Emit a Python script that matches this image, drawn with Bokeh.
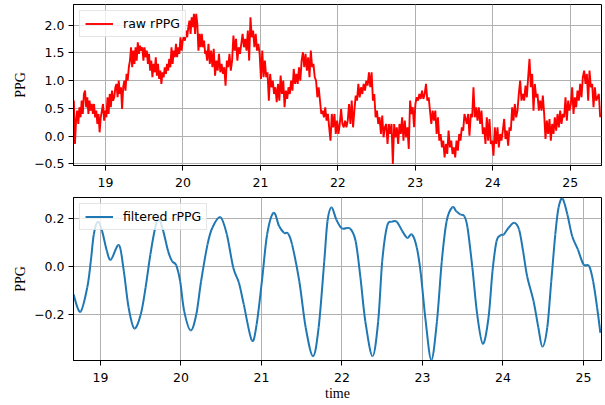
import numpy as np
from bokeh.plotting import figure
from bokeh.layouts import column
from bokeh.models import Range1d, FixedTicker, CustomJSTickFormatter
from bokeh.embed import file_html
from bokeh.resources import INLINE

# ---------------- data ----------------
# raw rPPG, read in four consecutive stretches (start time, end time, values)
raw_bounds = [(18.591, 20.287), (20.296, 21.888), (21.905, 23.635), (23.665, 25.387)]
raw_seg1 = [
    0.64, -0.14, 0.28, 0.46, 0.22, 0.52, 0.34, 0.64, 0.40, 0.76,
    0.82, 0.52, 0.70, 0.40, 0.64, 0.46, 0.58, 0.40, 0.58, 0.34,
    0.46, 0.22, 0.40, 0.07, 0.34, 0.46, 0.58, 0.28, 0.46, 0.34,
    0.70, 0.40, 0.76, 0.52, 0.82, 0.64, 0.70, 0.88, 0.94, 0.70,
    1.00, 0.76, 0.88, 0.49, 0.88, 1.00, 0.82, 1.12, 1.00, 1.24,
    1.36, 1.60, 1.24, 1.54, 1.30, 1.60, 1.36, 1.69, 1.48, 1.63,
    1.54, 1.60, 1.36, 1.60, 1.42, 1.54, 1.30, 1.48, 1.18, 1.36,
    1.06, 1.30, 1.15, 1.42, 1.09, 1.30, 1.03, 1.18, 0.94, 1.15,
    1.06, 1.24, 1.12, 1.30, 1.18, 1.39, 1.24, 1.60, 1.30, 1.54,
    1.42, 1.66, 1.42, 1.60, 1.48, 1.78, 1.54, 1.72, 1.78, 1.72,
    1.90, 1.78, 1.96, 2.08, 1.84, 2.14, 1.96, 2.20, 1.84, 2.20,
    2.02, 1.54, 1.84, 1.60, 1.84, 1.60, 1.72, 1.48,
]
raw_seg2 = [
    1.54, 1.36, 1.66, 1.30, 1.54, 1.24, 1.57, 1.09, 1.36, 1.18,
    1.48, 1.15, 1.30, 1.12, 1.24, 0.91, 1.36, 1.24, 1.48, 1.18,
    1.36, 1.81, 1.54, 1.75, 1.36, 1.60, 1.48, 1.66, 1.84, 1.60,
    1.75, 1.54, 1.90, 1.36, 2.14, 1.78, 1.90, 1.60, 1.84, 1.54,
    1.66, 1.48, 1.03, 1.54, 1.06, 1.36, 1.06, 1.15, 0.64, 1.12,
    0.88, 1.00, 0.76, 0.88, 0.61, 0.94, 0.64, 1.09, 0.76, 1.00,
    0.52, 0.82, 0.67, 0.88, 0.76, 1.00, 0.82, 1.21, 0.94, 1.12,
    0.94, 1.24, 1.00, 1.36, 1.51, 1.24, 1.48, 1.18, 1.42, 1.06,
    1.54, 1.24, 1.30, 1.06, 1.00, 0.70, 0.88, 0.64, 0.40, 0.46,
    0.34, 0.52, 0.28, 0.40, 0.16,
]
raw_seg3 = [
    -0.08, 0.40, 0.16, 0.40, 0.04, 0.28, 0.04, 0.22, 0.49, 0.22,
    0.16, 0.28, 0.16, 0.28, 0.58, 0.22, 0.64, 0.16, 0.46, 0.73,
    0.64, 0.94, 0.70, 0.88, 0.76, 0.94, 0.82, 1.00, 0.91, 1.15,
    0.88, 1.15, 0.64, 0.76, 0.34, 0.46, 0.22, 0.34, 0.04, 0.37,
    -0.02, 0.16, 0.22, -0.14, 0.22, 0.04, 0.22, -0.50, 0.22, -0.02,
    0.16, -0.14, 0.22, 0.04, 0.34, -0.08, 0.28, -0.02, 0.16, -0.23,
    0.64, 0.40, 0.52, 0.16, 0.58, 0.70, 0.64, 0.76, 0.67, 0.82,
    0.67, 0.76, 0.94, 0.64, 0.70, 0.46, 0.22, 0.46, 0.28, 0.46,
    0.04, 0.34, -0.08, 0.04, -0.20, -0.08, -0.38, -0.14, -0.32, 0.10,
    -0.20, -0.08, -0.32, -0.20, -0.38, -0.08, -0.26, 0.04, -0.08, 0.16,
    0.10, 0.40,
]
raw_seg4 = [
    0.22, 0.40, 0.01, 0.40, 0.34, 0.88, 0.34, 0.52, 0.28, 0.52,
    0.22, 0.46, 0.04, 0.16, -0.14, 0.34, -0.08, 0.31, -0.14, -0.08,
    -0.35, 0.16, -0.14, 0.16, -0.20, 0.04, -0.08, 0.10, 0.31, -0.05,
    0.10, -0.17, 0.16, 0.10, 0.52, 0.28, 0.58, 0.34, 0.46, 0.76,
    1.00, 0.64, 0.76, 0.64, 0.91, 0.70, 1.06, 1.39, 0.88, 1.12,
    0.46, 0.94, 0.70, 0.76, 0.46, 0.64, 0.46, 0.73, 0.40, -0.05,
    0.28, 0.04, 0.31, -0.08, 0.22, 0.04, 0.34, 0.10, 0.40, 0.16,
    0.46, 0.22, 0.40, 0.34, 0.70, 0.28, 0.64, 0.46, 0.58, 0.88,
    0.40, 0.70, 0.52, 0.82, 0.64, 0.94, 0.70, 1.06, 1.18, 0.94,
    1.12, 0.64, 1.18, 0.88, 0.94, 0.52, 0.88, 0.64, 0.70, 0.76,
    0.34,
]

# filtered rPPG (time, value)
filt_t = [
    18.665, 18.75, 18.835, 18.88, 18.917, 18.966, 19.02, 19.08, 19.13, 19.23,
    19.29, 19.35, 19.42, 19.50, 19.56, 19.62, 19.68, 19.725, 19.78, 19.84,
    19.89, 19.94, 19.99, 20.04, 20.12, 20.19, 20.25, 20.33, 20.39, 20.49,
    20.57, 20.65, 20.72, 20.78, 20.88, 20.94, 21.01, 21.07, 21.15, 21.22,
    21.28, 21.33, 21.38, 21.47, 21.55, 21.64, 21.71, 21.78, 21.82, 21.87,
    21.93, 22.00, 22.10, 22.17, 22.23, 22.29, 22.38, 22.45, 22.50, 22.56,
    22.62, 22.68, 22.75, 22.81, 22.87, 22.93, 22.98, 23.04, 23.11, 23.18,
    23.24, 23.30, 23.37, 23.42, 23.47, 23.52, 23.56, 23.62, 23.68, 23.75,
    23.82, 23.87, 23.92, 23.97, 24.01, 24.07, 24.14, 24.20, 24.25, 24.30,
    24.38, 24.44, 24.49, 24.55, 24.60, 24.65, 24.69, 24.74, 24.80, 24.86,
    24.93, 25.00, 25.07, 25.12, 25.17, 25.21,
]
filt_v = [
    -0.115, -0.187, -0.087, 0.023, 0.134, 0.187, 0.148, 0.065, 0.030, 0.090,
    -0.018, -0.170, -0.256, -0.198, -0.087, 0.051, 0.162, 0.200, 0.148, 0.065,
    0.023, 0.007, -0.060, -0.184, -0.264, -0.198, -0.060, 0.093, 0.162, 0.206,
    0.134, -0.004, -0.066, -0.156, -0.305, -0.239, -0.046, 0.134, 0.224, 0.168,
    0.141, 0.138, 0.093, -0.060, -0.253, -0.371, -0.253, 0.023, 0.189, 0.247,
    0.196, 0.159, 0.159, 0.106, -0.046, -0.226, -0.371, -0.226, 0.023, 0.168,
    0.187, 0.187, 0.148, 0.120, 0.134, 0.079, -0.030, -0.226, -0.387, -0.226,
    0.023, 0.189, 0.247, 0.231, 0.217, 0.210, 0.162, -0.004, -0.198, -0.320,
    -0.212, -0.018, 0.106, 0.131, 0.134, 0.162, 0.183, 0.155, 0.065, -0.039,
    -0.143, -0.253, -0.332, -0.253, -0.060, 0.134, 0.245, 0.283, 0.217, 0.127,
    0.072, 0.010, 0.003, -0.060, -0.170, -0.274,
]

x_ticks = [19, 20, 21, 22, 23, 24, 25]
raw_y_ticks = [-0.5, 0.0, 0.5, 1.0, 1.5, 2.0]
filt_y_ticks = [-0.2, 0.0, 0.2]

raw_segs = [raw_seg1, raw_seg2, raw_seg3, raw_seg4]
raw_t = np.concatenate([np.linspace(a, b, len(s)) for (a, b), s in zip(raw_bounds, raw_segs)])
raw_v = np.concatenate([np.array(s) for s in raw_segs])

# smooth (Catmull-Rom) rendering of the filtered curve through the read points
ft = np.array(filt_t)
fv = np.array(filt_v)
n = len(ft)
i = np.arange(n - 1)
im1 = np.clip(i - 1, 0, n - 1)
ip1 = i + 1
ip2 = np.clip(i + 2, 0, n - 1)
bez = dict(
    x0=ft[i], y0=fv[i], x1=ft[ip1], y1=fv[ip1],
    cx0=ft[i] + (ft[ip1] - ft[im1]) / 6.0, cy0=fv[i] + (fv[ip1] - fv[im1]) / 6.0,
    cx1=ft[ip1] - (ft[ip2] - ft[i]) / 6.0, cy1=fv[ip1] - (fv[ip2] - fv[i]) / 6.0,
)

# ---------------- figures ----------------
fmt = CustomJSTickFormatter(code="return (tick < 0 ? '\u2212' : '') + Math.abs(tick).toFixed(1);")


def style(p, yticks, xlabel=None):
    p.background_fill_color = "white"
    p.border_fill_color = "white"
    p.outline_line_color = "black"
    p.outline_line_width = 1
    p.xaxis.ticker = FixedTicker(ticks=x_ticks)
    p.yaxis.ticker = FixedTicker(ticks=yticks)
    p.yaxis.formatter = fmt
    for ax in p.axis:
        ax.major_tick_out = 5
        ax.major_tick_in = 0
        ax.minor_tick_out = 0
        ax.minor_tick_in = 0
        ax.major_tick_line_color = "black"
        ax.axis_line_color = "black"
        ax.major_label_text_font = "DejaVu Sans"
        ax.major_label_text_font_size = "12.5px"
        ax.major_label_text_color = "black"
        ax.major_label_standoff = 4
        ax.axis_label_text_font = "Liberation Serif"
        ax.axis_label_text_font_size = "14px"
        ax.axis_label_text_font_style = "normal"
        ax.axis_label_text_color = "black"
    p.xaxis.major_label_standoff = 7
    p.yaxis.axis_label = "PPG"
    p.yaxis.axis_label_standoff = 3
    if xlabel:
        p.xaxis.axis_label = xlabel
        p.xaxis.axis_label_standoff = 1
    p.grid.grid_line_color = "#b0b0b0"
    p.grid.grid_line_width = 1
    lg = p.legend[0]
    lg.location = "top_left"
    lg.margin = 6
    lg.padding = 5
    lg.spacing = 0
    lg.border_line_color = "#cccccc"
    lg.border_line_width = 1
    lg.background_fill_alpha = 0.8
    lg.label_text_font = "DejaVu Sans"
    lg.label_text_font_size = "12.5px"
    lg.label_text_color = "black"
    lg.glyph_width = 28
    lg.glyph_height = 13
    lg.label_height = 13
    lg.label_standoff = 10


p1 = figure(frame_width=528, frame_height=161,
            x_range=Range1d(18.587, 25.404), y_range=Range1d(-0.527, 2.369),
            output_backend="svg", toolbar_location=None,
            min_border_left=73, min_border_right=3, min_border_top=4, min_border_bottom=0)
p1.line(raw_t, raw_v, line_color="#ff0000", line_width=1.9, legend_label="raw rPPG")
style(p1, raw_y_ticks)

p2 = figure(frame_width=528, frame_height=163,
            x_range=Range1d(18.665, 25.224), y_range=Range1d(-0.389, 0.2876),
            output_backend="svg", toolbar_location=None,
            min_border_left=73, min_border_right=3, min_border_top=8, min_border_bottom=0)
p2.bezier(x0="x0", y0="y0", x1="x1", y1="y1", cx0="cx0", cy0="cy0", cx1="cx1", cy1="cy1",
          source=bez, line_color="#1f77b4", line_width=2.0, legend_label="filtered rPPG")
style(p2, filt_y_ticks, xlabel="time")

layout = column(p1, p2, spacing=0)
open("out.html", "w").write(file_html(layout, INLINE))
